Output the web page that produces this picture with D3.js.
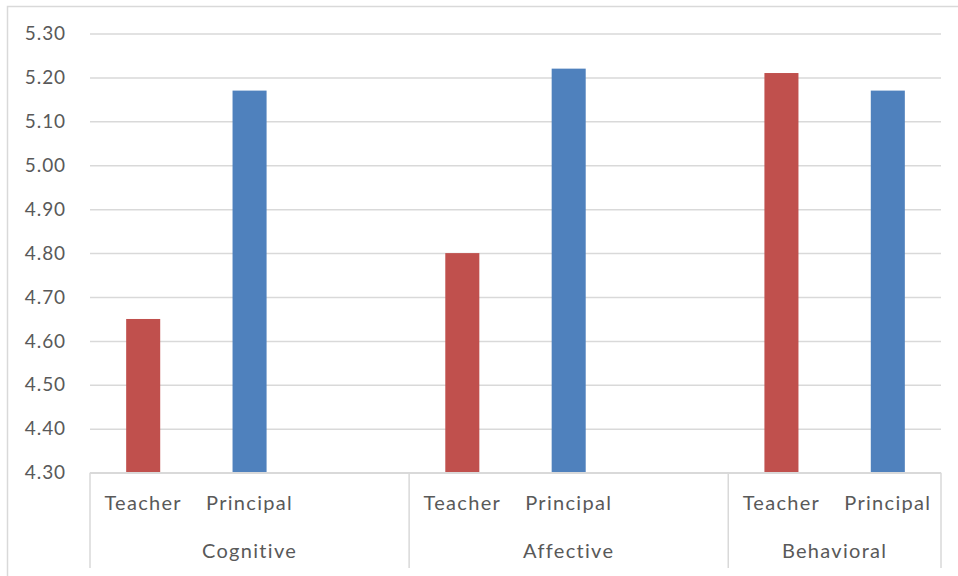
<!DOCTYPE html>
<html>
<head>
<meta charset="utf-8">
<script src="https://cdn.jsdelivr.net/npm/d3@7"></script>
<style>
  html, body { margin: 0; padding: 0; background: #fff; }
  svg { display: block; }
  text { font-family: Lato, "Open Sans", sans-serif; fill: #595959; }
</style>
</head>
<body>
<svg id="chart" width="958" height="576"></svg>
<script>
// Mean scores by dimension, for teachers and principals
const groups = ["Cognitive", "Affective", "Behavioral"];
const roles = ["Teacher", "Principal"];
const teacherValues = [4.65, 4.80, 5.21];
const principalValues = [5.17, 5.22, 5.17];
const yTickValues = [4.30, 4.40, 4.50, 4.60, 4.70, 4.80, 4.90, 5.00, 5.10, 5.20, 5.30];
const roleColors = ["#C0504D", "#4F81BD"];

const svg = d3.select("#chart");
const plot = { left: 90, right: 941, top: 33.5, bottom: 472.7 };

// Frame around the chart area
svg.append("rect")
  .attr("x", 7.5).attr("y", 6.5)
  .attr("width", 1000).attr("height", 1000)
  .attr("fill", "none").attr("stroke", "#D9D9D9").attr("stroke-width", 1.5);

// Category slots: Teacher, Principal, then an empty slot between groups
const slots = [];
groups.forEach((g, gi) => {
  roles.forEach((r, ri) => {
    const vals = ri === 0 ? teacherValues : principalValues;
    slots.push({ key: g + "|" + r, group: g, role: r, roleIndex: ri, value: vals[gi] });
  });
  if (gi < groups.length - 1) slots.push({ key: g + "|", group: g, role: "", roleIndex: -1, value: null });
});

const x = d3.scaleBand()
  .domain(slots.map(d => d.key))
  .range([plot.left, plot.right])
  .paddingInner(0.68).paddingOuter(0.34);

const y = d3.scaleLinear()
  .domain([4.30, 5.30])
  .range([plot.bottom, plot.top]);

// Gridlines and value labels
const yAxis = svg.append("g")
  .attr("transform", `translate(${plot.left},0)`)
  .call(d3.axisLeft(y)
    .tickValues(yTickValues)
    .tickFormat(d3.format(".2f"))
    .tickSize(-(plot.right - plot.left))
    .tickPadding(24));
yAxis.select(".domain").remove();
yAxis.selectAll(".tick line").attr("stroke", "#D9D9D9").attr("stroke-width", 1.5);
yAxis.selectAll(".tick text")
  .attr("font-size", 19).attr("letter-spacing", 0.9)
  .style("font-family", "Lato, 'Open Sans', sans-serif").attr("fill", "#595959");

// Bars
svg.append("g").selectAll("rect")
  .data(slots.filter(d => d.value !== null))
  .join("rect")
  .attr("x", d => x(d.key))
  .attr("width", x.bandwidth())
  .attr("y", d => y(d.value))
  .attr("height", d => y(4.30) - y(d.value))
  .attr("fill", d => roleColors[d.roleIndex]);

// Two-level category axis
const step = x.step();
const slotStart = key => x(key) - (step - x.bandwidth()) / 2;
const axisG = svg.append("g");
const axisBottom = 568;

axisG.append("line")
  .attr("x1", plot.left).attr("x2", plot.right)
  .attr("y1", plot.bottom).attr("y2", plot.bottom)
  .attr("stroke", "#D9D9D9").attr("stroke-width", 1.5);

const groupBounds = groups.map(g => {
  const keys = slots.filter(d => d.group === g).map(d => d.key);
  const start = slotStart(keys[0]);
  const end = slotStart(keys[keys.length - 1]) + step;
  return { group: g, start, end };
});

const separators = [plot.left].concat(groupBounds.map(b => b.end));
axisG.selectAll("line.sep")
  .data(separators)
  .join("line")
  .attr("class", "sep")
  .attr("x1", d => d).attr("x2", d => d)
  .attr("y1", plot.bottom).attr("y2", axisBottom)
  .attr("stroke", "#D9D9D9").attr("stroke-width", 1.5);

axisG.selectAll("text.role")
  .data(slots.filter(d => d.role))
  .join("text")
  .attr("class", "role")
  .attr("x", d => x(d.key) + x.bandwidth() / 2)
  .attr("y", 510)
  .attr("text-anchor", "middle")
  .attr("font-size", 20).attr("letter-spacing", 1.3)
  .text(d => d.role);

axisG.selectAll("text.group")
  .data(groupBounds)
  .join("text")
  .attr("class", "group")
  .attr("x", d => (d.start + d.end) / 2)
  .attr("y", 558)
  .attr("text-anchor", "middle")
  .attr("font-size", 20).attr("letter-spacing", 1.3)
  .text(d => d.group);
</script>
</body>
</html>
